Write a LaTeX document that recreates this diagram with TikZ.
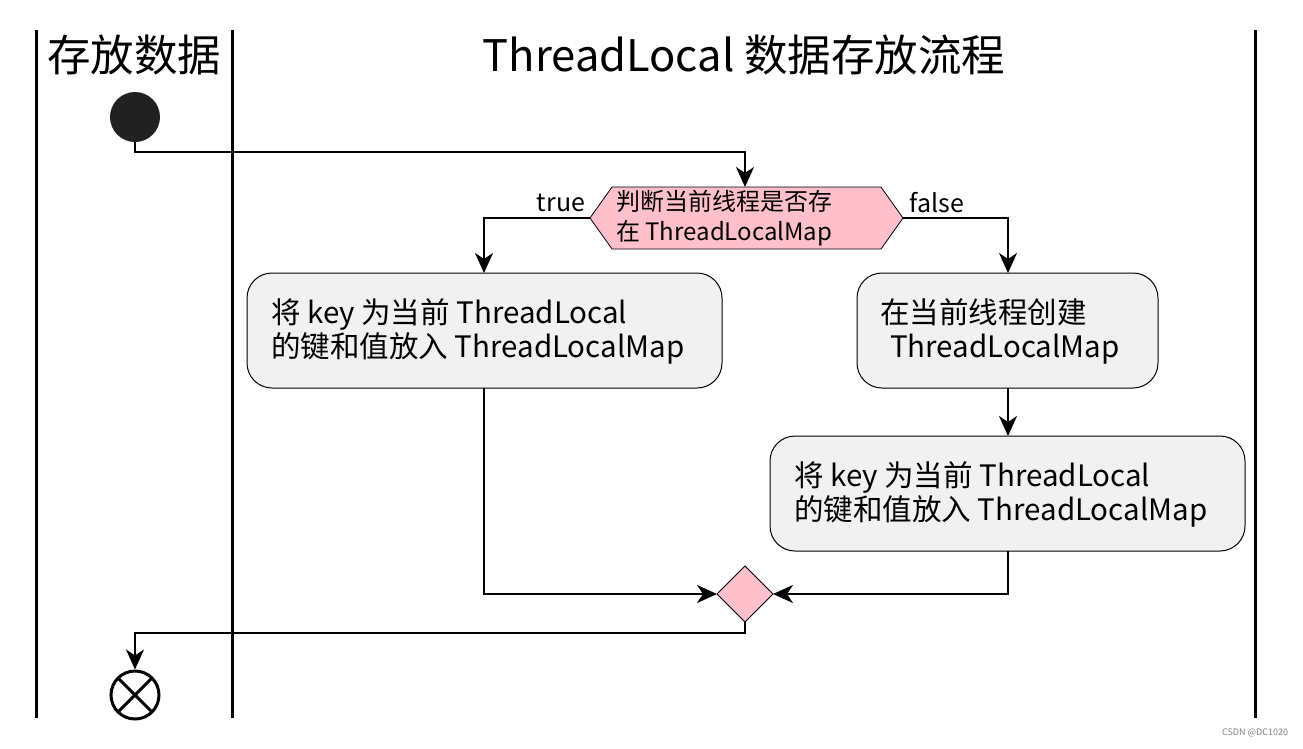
\documentclass[tikz,border=0pt]{standalone}
\usepackage{fontspec}
\setmainfont{Noto Sans CJK SC}
\usetikzlibrary{arrows.meta}
\definecolor{pk}{HTML}{FFC0CB}
\definecolor{bx}{HTML}{F1F1F1}
\begin{document}
\begin{tikzpicture}[x=1pt,y=-1pt,
 lane/.style={line width=3pt},
 act/.style={draw=none,font=\fontsize{29.5}{34}\selectfont,align=left,inner sep=0pt,anchor=west},
 actbox/.style={line width=1pt,fill=bx,rounded corners=25pt},
 flow/.style={line width=1.8pt,-{Stealth[length=20pt,width=18pt,inset=6pt]}},
 lbl/.style={font=\fontsize{25}{28}\selectfont}]
\useasboundingbox (0,0) rectangle (1303,748);
\draw[lane] (36,30) -- (36,718); \draw[lane] (232,30) -- (232,718); \draw[lane] (1255,30) -- (1255,718);
\node[font=\fontsize{43.5}{48}\selectfont] (t1) at (134,55) {存放数据};
\node[font=\fontsize{43.5}{48}\selectfont] (t2) at (744,55) {ThreadLocal 数据存放流程};
\node[circle,fill=black!87,minimum size=50pt,inner sep=0pt] (s) at (135,117) {};
\draw[fill=pk,line width=0.8pt] (590,218) -- (612,187) -- (881,187) -- (903,218) -- (881,249) -- (612,249) -- cycle;
\coordinate (dtop) at (745,187); \coordinate (dl) at (590,218); \coordinate (dr) at (903,218);
\node[font=\fontsize{24}{30}\selectfont,align=left,anchor=west,inner sep=0pt] (dt) at (616,218) {判断当前线程是否存\\在 ThreadLocalMap};
\node[lbl] (lt) at (561,203) {true};
\node[lbl] (lf) at (937,203) {false};
\draw[actbox] (247,273) rectangle (722,388); \node[act] (b1) at (271,331) {将 key 为当前 ThreadLocal\\的键和值放入 ThreadLocalMap};
\draw[actbox] (857,273) rectangle (1158,388); \node[act] (b2) at (880,331) {在当前线程创建\\\hspace*{10pt}ThreadLocalMap};
\draw[actbox] (770,436) rectangle (1245,551); \node[act] (b3) at (794,494) {将 key 为当前 ThreadLocal\\的键和值放入 ThreadLocalMap};
\draw[fill=pk,line width=0.8pt] (745,566) -- (773,594) -- (745,622) -- (717,594) -- cycle;
\coordinate (ml) at (717,594); \coordinate (mr) at (773,594); \coordinate (mb) at (745,622);
\node[circle,draw,line width=3pt,minimum size=48pt,inner sep=0pt] (e) at (135,695) {};
\draw[line width=3pt] (119,679) -- (151,711); \draw[line width=3pt] (151,679) -- (119,711);
\draw[flow] (s.south) |- (745,152) -- (dtop);
\draw[flow] (dl) -| (484,273);
\draw[flow] (dr) -| (1008,273);
\draw[flow] (1008,388) -- (1008,436);
\draw[flow] (484,388) |- (ml);
\draw[flow] (1008,551) |- (mr);
\draw[flow] (mb) -- (745,633) -| (e.north);
\node[font=\fontsize{9}{10}\selectfont,text=gray] (w) at (1255,733) {CSDN @DC1020};
\end{tikzpicture}
\end{document}
